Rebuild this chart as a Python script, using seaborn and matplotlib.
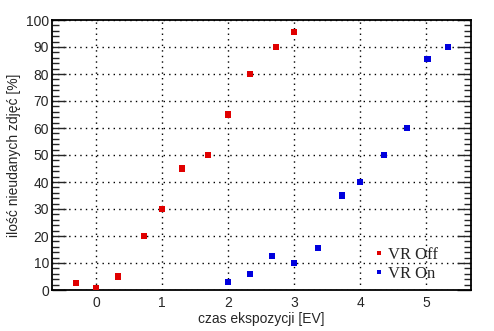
import matplotlib
matplotlib.use("Agg")
import matplotlib.pyplot as plt
import seaborn as sns
import pandas as pd
from matplotlib.ticker import MultipleLocator

off_x = [-0.3, 0.0, 0.33, 0.73, 1.0, 1.3, 1.7, 2.0, 2.33, 2.73, 3.0]
off_y = [2.5, 0.7, 5.0, 20.0, 30.0, 45.0, 50.0, 65.0, 80.0, 90.0, 95.5]
on_x = [2.0, 2.33, 2.67, 3.0, 3.36, 3.72, 4.0, 4.36, 4.71, 5.02, 5.33]
on_y = [3.0, 6.0, 12.5, 10.0, 15.5, 35.0, 40.0, 50.0, 60.0, 85.5, 90.0]
series = ["VR Off", "VR On"]
colors = ["#e00000", "#0000dd"]
x_ticks = [0, 1, 2, 3, 4, 5]
y_ticks = list(range(0, 101, 10))

df = pd.DataFrame({
    "x": off_x + on_x,
    "y": off_y + on_y,
    "s": [series[0]] * len(off_x) + [series[1]] * len(on_x),
})

sns.set_style("white")
plt.rcParams['font.family'] = ['Liberation Sans', 'DejaVu Sans']

fig = plt.figure(figsize=(4.94, 3.31), dpi=100)
ax = fig.add_axes([52/494, 1-290/331, (471-52)/494, (290-20)/331])
sns.scatterplot(data=df, x="x", y="y", hue="s", palette=colors, marker="s",
                s=20, edgecolor="none", linewidth=0, ax=ax, zorder=3)

ax.set_xlim(-0.667, 5.68)
ax.set_ylim(0, 100)
ax.set_xticks(x_ticks)
ax.set_yticks(y_ticks)
ax.yaxis.set_minor_locator(MultipleLocator(2))
ax.grid(True, which="major", linestyle=(0, (1, 3)), color="black", linewidth=1.0)
for sp in ax.spines.values():
    sp.set_color("black")
    sp.set_linewidth(1.3)

ax.tick_params(axis="y", which="major", direction="in", length=10, width=1.0,
               left=True, right=True, labelsize=10, pad=2)
ax.tick_params(axis="y", which="minor", direction="in", length=5, width=1.0,
               left=True, right=True)
ax.tick_params(axis="x", which="both", length=0, labelsize=10, pad=4)

ax.set_xlabel("czas ekspozycji [EV]", fontsize=10, labelpad=2)
ax.set_ylabel("ilość nieudanych zdjęć [%]", fontsize=10, labelpad=4)

leg = ax.legend(loc="upper left", bbox_to_anchor=(0.75, 0.19), frameon=False,
                handlelength=0.5, handletextpad=0.3, borderpad=0, labelspacing=0.15,
                markerscale=0.8, prop={"family": "Liberation Serif", "size": 12})

fig.savefig("out.png", dpi=100)
